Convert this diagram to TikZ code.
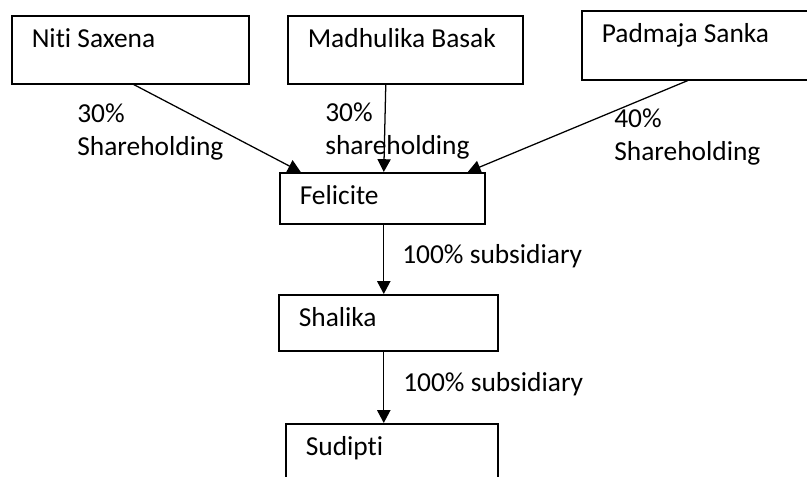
\documentclass[tikz,border=0pt]{standalone}
\usepackage{fontspec}
\setmainfont{Carlito}[RawFeature=-liga]
\usetikzlibrary{arrows.meta}
\newdimen\pxu
\pxu=0.025cm
\tikzset{
  box/.style={draw, line width=1.1pt, anchor=north west,
    inner xsep=20\pxu, inner ysep=0pt, text height=32\pxu,
    execute at begin node={\spaceskip=0pt\xspaceskip=0pt\relax}},
  lbl/.style={anchor=base west, inner sep=0pt, align=left},
}
\begin{document}
\begin{tikzpicture}[x=\pxu, y=-\pxu, >={Triangle[length=0.32cm,width=0.33cm]},
    every node/.style={font=\fontsize{19.5}{23.4}\selectfont}]
  \useasboundingbox (0,0) rectangle (807,476);
  \clip (0,0) rectangle (807,476);

  \node[box, text width=197\pxu, text depth=36\pxu] (niti) at (11,15) {\mbox{Niti Saxena}};
  \node[box, text width=195\pxu, text depth=36\pxu] (madhulika) at (287,15) {\mbox{Madhulika Basak}};
  \node[box, text width=190\pxu, text depth=37\pxu] (padmaja) at (581,10) {\mbox{Padmaja Sanka}};

  \node[box, text width=165\pxu, text depth=19\pxu] (felicite) at (279,172) {Felicite};
  \node[box, text width=179\pxu, text depth=24\pxu] (shalika) at (278,294) {Shalika};
  \node[box, text width=172\pxu, text depth=30\pxu] (sudipti) at (285,423) {Sudipti};

  \node[lbl] (share1) at (77,155) {30\%\\Shareholding};
  \node[lbl] (share2) at (325,154) {30\%\\shareholding};
  \node[lbl] (share3) at (614,160) {40\%\\Shareholding};
  \node[lbl] (sub1) at (402,263) {100\% subsidiary};
  \node[lbl] (sub2) at (403,391) {100\% subsidiary};

  \draw[->, line width=0.9pt] ([xshift=3.5\pxu]niti.south) -- ([xshift=-81.5\pxu]felicite.north);
  \draw[->, line width=0.9pt] ([xshift=-19.5\pxu]madhulika.south) -- ([xshift=1.5\pxu]felicite.north);
  \draw[->, line width=0.9pt] ([xshift=-9\pxu]padmaja.south) -- ([xshift=85.5\pxu]felicite.north);

  \draw[->, line width=0.9pt] ([xshift=1.5\pxu]felicite.south) -- ([xshift=1.5\pxu]felicite.south |- shalika.north);
  \draw[->, line width=0.9pt] ([xshift=-4.5\pxu]shalika.south) -- ([xshift=-4.5\pxu]shalika.south |- sudipti.north);
\end{tikzpicture}
\end{document}
